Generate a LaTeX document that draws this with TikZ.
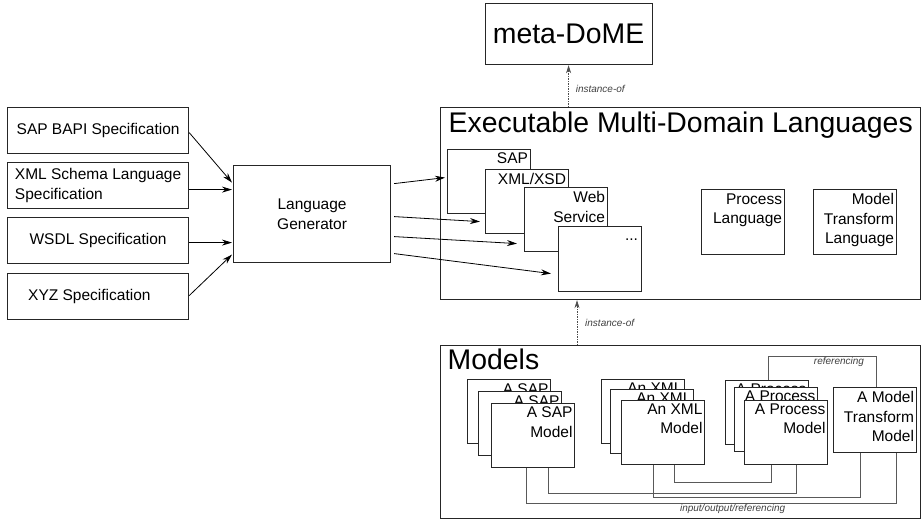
\documentclass[tikz,border=0pt]{standalone}
\usepackage{fontspec}
\setmainfont{Liberation Sans}
\usetikzlibrary{arrows.meta,calc}

\begin{document}
\begin{tikzpicture}[x=1pt,y=-1pt,
  box/.style={draw=black!85, line width=1.2pt, fill=white, inner sep=0pt, anchor=north west},
  cell/.style={box, minimum width=83, minimum height=64},
  txt/.style={font=\fontsize{15.5}{19.5}\selectfont, inner sep=0pt},
  tag/.style={txt, align=right, anchor=north east},
  big/.style={font=\fontsize{28.4}{32}\selectfont, inner sep=0pt},
  small/.style={font=\fontsize{10}{12}\selectfont\itshape, inner sep=0pt, text=black!75},
  arr/.style={-{Stealth[length=10pt,width=6pt]}, line width=0.8pt},
  inst/.style={-{Stealth[length=8pt,width=5pt]}, line width=0.7pt, dash pattern=on 1.5pt off 1pt, draw=black!70},
  link/.style={line width=0.8pt, draw=black!65},
]
\useasboundingbox (0,0) rectangle (922,522);

% input specifications
\node[box, txt, minimum width=181, minimum height=46] (bapi) at (7,107) {SAP BAPI Specification};
\node[box, txt, minimum width=181, minimum height=46, align=left] (xmls) at (7,162) {XML Schema Language\\Specification};
\node[box, txt, minimum width=181, minimum height=46] (wsdl) at (7,217) {WSDL Specification};
\node[box, minimum width=181, minimum height=46] (xyz) at (7,273) {};
\node[txt, anchor=west] (xyzt) at ([xshift=21pt]xyz.west) {XYZ Specification};

% generator
\node[box, txt, minimum width=157, minimum height=97, align=center] (lg) at (233,165) {Language\\Generator};

\draw[arr] ($(bapi.east)+(0,2)$) -- ($(lg.west)+(-1,-31.5)$);
\draw[arr] ($(xmls.east)+(0,4)$) -- ($(lg.west)+(-1,-24.5)$);
\draw[arr] ($(wsdl.east)+(0,2)$) -- ($(lg.west)+(-1,28.5)$);
\draw[arr] ($(xyz.east)+(0,-1)$) -- ($(lg.west)+(-1,40.5)$);

% meta level
\node[box, big, minimum width=167, minimum height=61] (meta) at (484.5,3) {meta-DoME};

% executable languages
\node[box, minimum width=480, minimum height=192] (emdl) at (440,107) {};
\node[big, anchor=base west] (emdlt) at ($(emdl.north west)+(8.5,25.3)$) {Executable Multi-Domain Languages};

\node[cell] (sapL) at (447,149) {};
\node[tag] (sapLt) at ($(sapL.north east)+(-3,3)$) {SAP};
\node[cell] (xmlL) at (485,169) {};
\node[tag] (xmlLt) at ($(xmlL.north east)+(-3,4.5)$) {XML/XSD};
\node[cell] (webL) at (524,187) {};
\node[tag] (webLt) at ($(webL.north east)+(-3,4.2)$) {Web\\Service};
\node[cell, minimum height=65] (dotL) at (558,226) {};
\node[txt, anchor=base east] (dotLt) at ($(dotL.north east)+(-4,14)$) {...};

\node[cell, minimum height=65] (procL) at (701,189) {};
\node[tag] (procLt) at ($(procL.north east)+(-3,4.5)$) {Process\\Language};
\node[cell, minimum height=65] (mtl) at (813,189) {};
\node[tag] (mtlt) at ($(mtl.north east)+(-3,4.5)$) {Model\\Transform\\Language};

\draw[arr] ($(lg.east)+(3,-30.5)$) -- ($(sapL.west)+(-2,-4)$);
\draw[arr] ($(lg.east)+(3,2.5)$) -- ($(xmlL.west)+(-5,20)$);
\draw[arr] ($(lg.east)+(3,22.5)$) -- ($(webL.west)+(-7,24)$);
\draw[arr] ($(lg.east)+(3,39.5)$) -- ($(dotL.west)+(-7,14.5)$);

\coordinate (i1) at (meta.south |- emdl.north);
\draw[inst] (i1) -- (meta.south);
\node[small, anchor=west] (i1t) at ($(meta.south)+(7,24)$) {instance-of};

% models
\node[box, minimum width=480, minimum height=173] (models) at (440,345) {};
\node[big, anchor=base west] (modelst) at ($(models.north west)+(7.5,24.3)$) {Models};

\coordinate (i2) at ($(models.north west)+(137,0)$);
\draw[inst] (i2) -- (i2 |- emdl.south);
\node[small, anchor=west] (i2t) at ($(i2)+(8,-22)$) {instance-of};

\node[cell] (sapB) at (467,379) {};
\node[tag] (sapBt) at ($(sapB.north east)+(-2.5,4)$) {A SAP};
\node[cell] (sapM) at (478,391) {};
\node[tag] (sapMt) at ($(sapM.north east)+(-2.5,4)$) {A SAP};
\node[cell] (sapF) at (491,403) {};
\node[tag] (sapFt) at ($(sapF.north east)+(-2.5,3.5)$) {A SAP\\Model};

\node[cell] (xmlB) at (601,379) {};
\node[tag] (xmlBt) at ($(xmlB.north east)+(-2.5,4)$) {An XML};
\node[cell] (xmlM) at (610,389) {};
\node[tag] (xmlMt) at ($(xmlM.north east)+(-2.5,4)$) {An XML};
\node[cell] (xmlF) at (621,400) {};
\node[tag] (xmlFt) at ($(xmlF.north east)+(-2.5,3.5)$) {An XML\\Model};

\node[cell] (procB) at (725,380) {};
\node[tag] (procBt) at ($(procB.north east)+(-2.5,4)$) {A Process};
\node[cell] (procM) at (734,387) {};
\node[tag] (procMt) at ($(procM.north east)+(-2.5,4)$) {A Process};
\node[cell] (procF) at (744,400) {};
\node[tag] (procFt) at ($(procF.north east)+(-2.5,3.5)$) {A Process\\Model};

\node[cell, minimum height=65] (mtm) at (833,387) {};
\node[tag] (mtmt) at ($(mtm.north east)+(-3,4.5)$) {A Model\\Transform\\Model};

% links between models
\coordinate (r1) at ($(procB.north west)+(43,0)$);
\coordinate (r2) at ($(mtm.north west)+(43,0)$);
\draw[link] (r1) -- ++(0,-24) -| (r2);
\node[small] (reft) at ($(r2)+(-37,-25)$) {referencing};

\coordinate (a1) at ($(sapF.south west)+(35,0)$);
\coordinate (a2) at ($(mtm.south west)+(63,0)$);
\draw[link] (a1) -- ++(0,35) -| (a2);
\coordinate (b1) at ($(sapF.south west)+(57,0)$);
\coordinate (b2) at ($(procF.south west)+(52,0)$);
\draw[link] (b1) -- ++(0,25) -| (b2);
\coordinate (c1) at ($(xmlF.south west)+(32,0)$);
\coordinate (c2) at ($(mtm.south west)+(27,0)$);
\draw[link] (c1) -- ++(0,32) -| (c2);
\coordinate (d1) at ($(xmlF.south west)+(53,0)$);
\coordinate (d2) at ($(procF.south west)+(27,0)$);
\draw[link] (d1) -- ++(0,17) -| (d2);
\node[small] (iot) at ($(models.south)+(52,-10)$) {input/output/referencing};
\end{tikzpicture}
\end{document}
